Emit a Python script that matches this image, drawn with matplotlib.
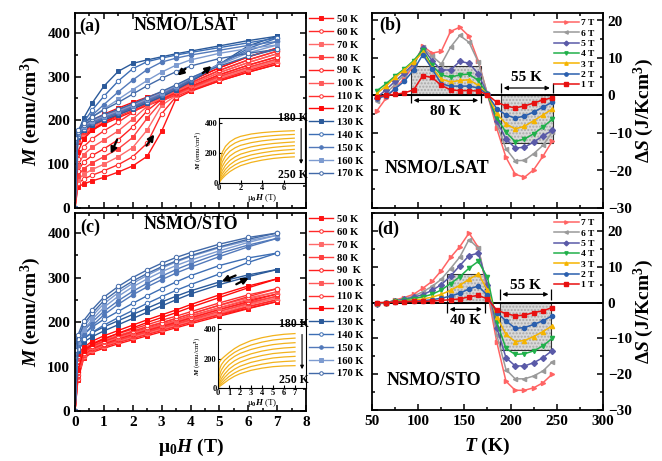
import matplotlib.pyplot as plt
from matplotlib.patches import Rectangle
from matplotlib.ticker import MultipleLocator

plt.rcParams['font.family'] = ['Liberation Serif', 'DejaVu Serif']
plt.rcParams['font.weight'] = 'bold'
plt.rcParams['mathtext.fontset'] = 'custom'
plt.rcParams['mathtext.rm'] = 'Liberation Serif:bold'
plt.rcParams['mathtext.it'] = 'Liberation Serif:bold:italic'
plt.rcParams['mathtext.bf'] = 'Liberation Serif:bold'
plt.rcParams['axes.linewidth'] = 1.3

# ---------------- M-H loops ----------------
H_pts = [0, 0.1, 0.3, 0.6, 1.0, 1.5, 2.0, 2.5, 3.0, 3.5, 4.0, 5.0, 6.0, 7.0]
temps = ['50 K', '60 K', '70 K', '80 K', '90  K', '100 K', '110 K', '120 K',
         '130 K', '140 K', '150 K', '160 K', '170 K']

# NSMO/LSAT, field increasing
M_inc_lsat = [
    [0, 48, 55, 62, 70, 82, 96, 118, 175, 250, 266, 290, 310, 328],
    [0, 56, 66, 75, 85, 99, 117, 148, 215, 254, 269, 293, 314, 332],
    [0, 64, 77, 88, 100, 117, 138, 178, 234, 257, 271, 296, 317, 336],
    [0, 73, 90, 103, 117, 135, 161, 205, 243, 260, 274, 300, 321, 340],
    [0, 84, 105, 120, 135, 156, 185, 222, 248, 263, 277, 304, 326, 345],
    [0, 96, 122, 139, 155, 176, 203, 232, 252, 266, 281, 309, 332, 352],
    [0, 112, 140, 158, 176, 196, 218, 239, 256, 270, 285, 314, 338, 358],
    [0, 128, 158, 177, 195, 213, 231, 246, 260, 274, 290, 320, 345, 365],
    [0, 162, 178, 190, 201, 213, 226, 240, 254, 270, 288, 328, 370, 392],
    [0, 165, 181, 193, 204, 216, 229, 243, 257, 273, 291, 328, 364, 388],
    [0, 168, 184, 196, 207, 219, 232, 246, 260, 276, 294, 329, 359, 380],
    [0, 171, 187, 199, 210, 222, 235, 249, 263, 279, 296, 327, 354, 372],
    [0, 174, 190, 202, 213, 225, 238, 252, 266, 281, 297, 324, 346, 362],
]
# NSMO/LSAT, field decreasing
M_dec_lsat = [
    [135, 150, 165, 178, 192, 206, 220, 234, 246, 257, 268, 290, 310, 328],
    [138, 153, 168, 181, 195, 209, 223, 236, 248, 259, 270, 293, 314, 332],
    [140, 155, 170, 184, 198, 212, 226, 238, 250, 261, 272, 296, 317, 336],
    [142, 158, 173, 187, 201, 215, 228, 240, 252, 263, 275, 300, 321, 340],
    [145, 160, 176, 190, 204, 218, 231, 243, 254, 265, 278, 304, 326, 345],
    [148, 163, 179, 193, 207, 221, 234, 246, 257, 268, 282, 309, 332, 352],
    [150, 166, 182, 196, 210, 224, 237, 249, 260, 272, 286, 314, 338, 358],
    [153, 170, 186, 200, 214, 228, 241, 253, 264, 276, 291, 320, 345, 365],
    [150, 172, 205, 240, 278, 312, 330, 338, 345, 352, 358, 370, 382, 392],
    [152, 172, 196, 224, 255, 290, 318, 334, 342, 349, 355, 366, 377, 388],
    [155, 174, 192, 212, 236, 265, 292, 316, 333, 342, 349, 360, 371, 380],
    [158, 176, 192, 208, 226, 248, 270, 291, 310, 326, 338, 353, 364, 372],
    [160, 178, 194, 208, 224, 241, 260, 279, 296, 311, 324, 341, 353, 362],
]
# NSMO/STO, field increasing
M_inc_sto = [
    [0, 70, 118, 132, 141, 151, 160, 169, 178, 187, 196, 213, 230, 246],
    [0, 73, 121, 135, 144, 154, 163, 172, 181, 190, 199, 217, 234, 250],
    [0, 76, 123, 137, 147, 157, 166, 175, 184, 193, 202, 220, 238, 254],
    [0, 79, 125, 139, 149, 159, 169, 178, 187, 196, 205, 224, 242, 258],
    [0, 82, 127, 141, 151, 162, 172, 181, 190, 199, 209, 228, 246, 263],
    [0, 85, 129, 143, 154, 165, 175, 185, 194, 203, 213, 232, 251, 268],
    [0, 88, 131, 146, 157, 168, 179, 189, 198, 208, 218, 238, 257, 275],
    [0, 92, 135, 150, 162, 175, 187, 199, 210, 221, 233, 255, 277, 297],
    [0, 135, 155, 167, 180, 194, 208, 222, 236, 250, 263, 284, 302, 318],
    [0, 140, 162, 177, 193, 210, 226, 242, 257, 271, 284, 308, 334, 355],
    [0, 148, 172, 192, 216, 240, 261, 279, 295, 310, 323, 347, 369, 388],
    [0, 155, 182, 206, 233, 258, 279, 297, 313, 327, 339, 360, 379, 395],
    [0, 162, 195, 220, 248, 272, 292, 309, 324, 337, 349, 369, 386, 400],
]
# NSMO/STO, field decreasing
M_dec_sto = [
    [92, 110, 124, 136, 146, 156, 165, 174, 183, 191, 200, 216, 231, 246],
    [95, 113, 127, 139, 149, 159, 168, 177, 186, 194, 203, 220, 235, 250],
    [97, 116, 130, 142, 152, 162, 171, 180, 189, 198, 207, 224, 240, 254],
    [99, 118, 132, 144, 154, 164, 174, 183, 192, 201, 210, 228, 244, 258],
    [101, 120, 134, 146, 157, 167, 177, 186, 195, 204, 214, 232, 249, 263],
    [103, 122, 136, 149, 160, 170, 180, 190, 199, 208, 218, 237, 254, 268],
    [105, 124, 139, 152, 163, 174, 184, 194, 204, 213, 223, 243, 261, 275],
    [108, 128, 143, 157, 169, 181, 193, 205, 216, 227, 239, 261, 281, 297],
    [118, 145, 163, 176, 189, 203, 217, 231, 245, 258, 270, 290, 306, 318],
    [122, 150, 172, 189, 206, 224, 242, 259, 275, 290, 304, 327, 344, 355],
    [128, 157, 180, 200, 224, 248, 269, 287, 303, 318, 331, 354, 373, 388],
    [133, 162, 190, 214, 241, 266, 287, 305, 321, 335, 347, 367, 383, 395],
    [138, 170, 203, 228, 256, 280, 300, 317, 332, 345, 356, 375, 390, 400],
]

# insets, 180 K ... 250 K
H_ins = [0, 0.1, 0.3, 0.6, 1.0, 1.5, 2.0, 3.0, 4.0, 5.0, 6.0, 7.0]
M_ins_lsat = [
    [0, 150, 205, 245, 275, 298, 312, 328, 337, 343, 347, 350],
    [0, 120, 175, 215, 245, 268, 283, 300, 310, 317, 322, 325],
    [0, 90, 140, 180, 212, 236, 252, 270, 282, 290, 296, 300],
    [0, 65, 110, 148, 180, 205, 222, 242, 255, 264, 270, 275],
    [0, 45, 82, 118, 150, 175, 193, 214, 228, 238, 245, 250],
    [0, 30, 60, 92, 122, 148, 166, 188, 202, 213, 220, 225],
    [0, 20, 42, 70, 98, 122, 140, 162, 177, 188, 195, 200],
    [0, 12, 30, 52, 76, 98, 116, 138, 153, 164, 171, 175],
]
M_ins_sto = [
    [0, 172, 195, 215, 240, 268, 290, 322, 342, 356, 365, 370],
    [0, 120, 158, 188, 215, 242, 262, 292, 312, 326, 334, 339],
    [0, 80, 122, 156, 188, 215, 235, 262, 281, 295, 303, 308],
    [0, 50, 90, 124, 157, 185, 205, 232, 251, 264, 272, 277],
    [0, 30, 62, 95, 128, 156, 176, 203, 221, 234, 241, 246],
    [0, 20, 44, 72, 102, 128, 148, 174, 191, 204, 211, 215],
    [0, 12, 29, 52, 78, 102, 121, 146, 162, 174, 180, 184],
    [0, 8, 19, 36, 58, 80, 97, 120, 135, 145, 150, 152],
]

# ---------------- entropy change ----------------
T_mid = [55, 65, 75, 85, 95, 105, 115, 125, 135, 145, 155, 165, 175, 185,
         195, 205, 215, 225, 235, 245]
fields = ['7 T', '6 T', '5 T', '4 T', '3 T', '2 T', '1 T']
dS_lsat = [
    [-4.2, -0.8, 2.0, 4.5, 8.0, 13.2, 11.3, 11.8, 17.1, 18.2, 15.8, 9.2, 0.3, -8.8, -16.5, -21.0, -21.8, -19.8, -16.2, -12.2],
    [-1.5, 0.5, 3.0, 5.5, 8.0, 12.8, 10.5, 8.4, 12.9, 16.0, 14.2, 8.9, 0.3, -7.6, -14.2, -17.4, -17.3, -15.5, -13.3, -9.8],
    [-0.6, 1.5, 3.8, 6.0, 8.5, 12.7, 9.3, 6.8, 6.8, 9.1, 8.6, 5.8, 0.3, -6.8, -11.6, -14.0, -13.8, -12.4, -10.8, -9.3],
    [1.2, 3.1, 5.2, 7.1, 9.3, 12.2, 8.0, 5.5, 4.9, 5.5, 5.7, 4.0, 0.3, -6.0, -9.8, -12.3, -11.6, -10.2, -8.4, -6.4],
    [0.5, 2.5, 4.8, 6.8, 9.0, 11.5, 7.3, 4.4, 3.6, 4.0, 4.2, 2.7, 0.3, -4.8, -7.6, -8.9, -8.2, -6.7, -5.2, -3.6],
    [-0.6, -0.2, 1.8, 3.8, 6.8, 10.9, 7.1, 3.1, 2.5, 2.5, 2.5, 2.0, 0.3, -3.5, -5.2, -6.0, -5.5, -4.4, -3.1, -1.8],
    [-0.3, 0.0, 0.3, 0.7, 1.5, 5.3, 4.8, 2.7, 1.5, 1.3, 1.3, 1.2, 0.2, -1.8, -2.8, -3.3, -2.8, -2.0, -1.2, -0.6],
]
dS_sto = [
    [-0.3, -0.2, 0.7, 1.4, 2.3, 4.0, 5.9, 8.9, 12.6, 15.6, 19.4, 15.4, 3.0, -11.0, -22.0, -24.5, -24.5, -23.8, -22.4, -20.0],
    [-0.3, -0.1, 0.5, 1.0, 1.8, 3.0, 4.5, 6.5, 9.5, 12.7, 17.6, 15.2, 4.0, -9.0, -18.7, -21.3, -21.3, -20.5, -19.1, -16.6],
    [-0.4, 0.0, 0.5, 0.9, 1.5, 2.2, 3.4, 5.0, 7.4, 10.3, 13.1, 13.8, 5.0, -7.0, -15.4, -17.7, -17.7, -16.8, -15.4, -13.4],
    [-0.3, 0.0, 0.4, 0.7, 1.1, 1.6, 2.3, 3.5, 5.3, 7.2, 9.6, 11.5, 7.0, -5.5, -12.8, -14.5, -14.3, -13.5, -12.1, -10.0],
    [-0.2, 0.0, 0.3, 0.5, 0.7, 1.0, 1.5, 2.3, 3.4, 4.8, 6.5, 8.0, 3.5, -4.0, -8.9, -10.9, -10.6, -9.5, -8.1, -6.5],
    [-0.1, 0.0, 0.2, 0.3, 0.4, 0.5, 0.8, 1.2, 1.8, 2.6, 3.8, 4.6, 2.0, -2.8, -5.1, -7.2, -7.0, -6.1, -5.1, -3.7],
    [0.0, 0.0, 0.1, 0.2, 0.3, 0.3, 0.4, 0.6, 0.8, 1.0, 1.6, 2.0, 1.0, -2.1, -3.1, -3.7, -3.5, -2.8, -2.3, -1.4],
]
# shaded spans: (T start, T end, dS edge)
span_lsat = [(92, 168, 7.8), (189.5, 245.5, -12.6)]
span_sto = [(131, 172, 8.1), (188, 244, -13.2)]
span_text_lsat = ['80 K', '55 K']
span_text_sto = ['40 K', '55 K']

# ---------------- styles ----------------
mh_colors = ['#ff1515', '#ff2a2a', '#ff6a6a', '#ff4040', '#ff2020', '#ff5a5a',
             '#ff3030', '#ff0a0a', '#2b5a9a', '#3d6eb4', '#5279ba', '#7d9bd0', '#4169a8']
mh_markers = ['s', 'o', 's', 's', 'o', 's', 'o', 's', 's', 'o', 'o', 's', 'o']
mh_filled = [True, False, True, True, False, True, False, True, True, False, True, True, False]
dS_colors = ['#ff6464', '#9a9a9a', '#5a5aa8', '#20b04a', '#f5b400', '#2a5fae', '#e81010']
dS_markers = ['>', '<', 'D', 'v', '^', 'o', 's']
ins_color = '#f2b21c'

fig = plt.figure(figsize=(6.62, 4.61), dpi=100)
W, Hh = 662.0, 461.0
ax_a = fig.add_axes([75 / W, 1 - 208 / Hh, 231 / W, 195 / Hh])
ax_c = fig.add_axes([75 / W, 1 - 411 / Hh, 231 / W, 198 / Hh])
ax_b = fig.add_axes([372 / W, 1 - 208 / Hh, 231 / W, 195 / Hh])
ax_d = fig.add_axes([372 / W, 1 - 410 / Hh, 231 / W, 197 / Hh])


def style_ticks(ax, right_labels=False):
    ax.tick_params(which='both', direction='in', top=True, right=True, left=True,
                   labelsize=11, width=1.1)
    ax.tick_params(which='major', length=4.5)
    ax.tick_params(which='minor', length=2.5)
    if right_labels:
        ax.tick_params(labelleft=False, labelright=True)
    for lab in ax.get_xticklabels() + ax.get_yticklabels():
        lab.set_fontweight('bold')


def mh_panel(ax, m_inc, m_dec, show_x):
    handles = []
    for i, t in enumerate(temps):
        c = mh_colors[i]
        kw = dict(color=c, lw=1.0, marker=mh_markers[i], ms=3.2,
                  mfc=c if mh_filled[i] else 'white', mec=c, mew=0.7)
        ln, = ax.plot(H_pts, m_inc[i], label=t, **kw)
        ax.plot(H_pts, m_dec[i], **kw)
        handles.append(ln)
    ax.set_xlim(0, 8)
    ax.set_ylim(0, 445)
    ax.xaxis.set_major_locator(MultipleLocator(1))
    ax.xaxis.set_minor_locator(MultipleLocator(0.5))
    ax.yaxis.set_major_locator(MultipleLocator(100))
    ax.yaxis.set_minor_locator(MultipleLocator(50))
    style_ticks(ax)
    if not show_x:
        ax.tick_params(labelbottom=False)
    ax.set_ylabel(r'$M$ (emu/cm$^3$)', fontsize=14, fontweight='bold', labelpad=3)
    ax.legend(handles=handles, loc='upper left', bbox_to_anchor=(1.005, 1.0),
              frameon=False, fontsize=7.6, handlelength=2.3, handletextpad=0.4,
              labelspacing=0.33, borderaxespad=0, borderpad=0.15, markerscale=0.8)


def inset(rect, m_ins, xticks):
    ins = fig.add_axes(rect)
    for m in m_ins:
        ins.plot(H_ins, m, color=ins_color, lw=0.9)
    ins.set_xlim(0, 8)
    ins.set_ylim(0, 435)
    ins.set_xticks(xticks)
    ins.set_yticks([0, 200, 400])
    ins.tick_params(direction='in', labelsize=6, length=2, pad=1, width=0.8)
    for s in ins.spines.values():
        s.set_linewidth(0.8)
    for lab in ins.get_xticklabels() + ins.get_yticklabels():
        lab.set_fontweight('bold')
    ins.set_ylabel(r'$M$ (emu/cm$^3$)', fontsize=5, labelpad=1)
    ins.set_xlabel(r'μ$_0H$ (T)', fontsize=6.5, labelpad=0)
    ins.text(0.86, 1.0, '180 K', transform=ins.transAxes, ha='center', va='center',
             fontsize=8.5, fontweight='bold')
    ins.text(0.86, 0.13, '250 K', transform=ins.transAxes, ha='center', va='center',
             fontsize=8.5, fontweight='bold')
    ins.annotate('', xy=(0.955, 0.25), xytext=(0.955, 0.88), xycoords='axes fraction',
                 arrowprops=dict(arrowstyle='-|>', color='k', lw=0.8, mutation_scale=5))
    return ins


def arrow(ax, x0, y0, x1, y1):
    ax.annotate('', xy=(x1, y1), xytext=(x0, y0),
                arrowprops=dict(arrowstyle='-|>', color='k', lw=1.6, mutation_scale=9))


# (a) and (c)
mh_panel(ax_a, M_inc_lsat, M_dec_lsat, False)
mh_panel(ax_c, M_inc_sto, M_dec_sto, True)
ax_c.set_xlabel(r'μ$_0H$ (T)', fontsize=14, fontweight='bold', labelpad=6)
ax_a.text(0.065, 0.93, '(a)', transform=ax_a.transAxes, ha='center', va='center',
          fontsize=13, fontweight='bold')
ax_a.text(0.48, 0.935, 'NSMO/LSAT', transform=ax_a.transAxes, ha='center', va='center',
          fontsize=13, fontweight='bold')
ax_c.text(0.065, 0.93, '(c)', transform=ax_c.transAxes, ha='center', va='center',
          fontsize=13, fontweight='bold')
ax_c.text(0.5, 0.94, 'NSMO/STO', transform=ax_c.transAxes, ha='center', va='center',
          fontsize=13, fontweight='bold')
arrow(ax_a, 1.5, 162, 1.2, 118)
arrow(ax_a, 2.42, 137, 2.8, 173)
arrow(ax_a, 3.9, 322, 3.48, 298)
arrow(ax_a, 4.35, 304, 4.8, 328)
arrow(ax_c, 5.65, 307, 5.0, 289)
arrow(ax_c, 5.5, 282, 6.1, 302)

inset([219 / W, 1 - 183 / Hh, 86 / W, 65 / Hh], M_ins_lsat, [0, 2, 4, 6])
inset([218 / W, 1 - 388 / Hh, 88 / W, 64 / Hh], M_ins_sto, [0, 1, 2, 3, 4, 5, 6, 7])


# (b) and (d)
def ds_panel(ax, dS, spans, ylim, show_x):
    for (t0, t1, edge) in spans:
        y0, h = (0, edge) if edge > 0 else (edge, -edge)
        ax.add_patch(Rectangle((t0, y0), t1 - t0, h, fc='#d9d9d9', ec='#a8a8a8',
                               hatch='.....', lw=0, zorder=1))
        ax.add_patch(Rectangle((t0, y0), t1 - t0, h, fill=False, ec='#333333',
                               lw=0.8, zorder=1.5))
    ax.axhline(0, color='k', lw=1.4, zorder=2)
    for i, f in enumerate(fields):
        ax.plot(T_mid, dS[i], color=dS_colors[i], marker=dS_markers[i], ms=3,
                lw=1.1, label=f, zorder=3)
    ax.set_xlim(50, 300)
    ax.set_ylim(*ylim)
    ax.xaxis.set_major_locator(MultipleLocator(50))
    ax.xaxis.set_minor_locator(MultipleLocator(25))
    ax.yaxis.set_major_locator(MultipleLocator(10))
    ax.yaxis.set_minor_locator(MultipleLocator(5))
    style_ticks(ax, right_labels=True)
    if not show_x:
        ax.tick_params(labelbottom=False)
    ax.yaxis.set_label_position('right')
    ax.set_ylabel(r'$\Delta S$ (J/Kcm$^3$)', fontsize=14, fontweight='bold', labelpad=0)
    ax.legend(loc='upper right', bbox_to_anchor=(0.985, 0.995), frameon=False,
              fontsize=6.8, handlelength=2.6, handletextpad=0.3, labelspacing=0.18,
              borderaxespad=0.1, markerscale=0.8)


ds_panel(ax_b, dS_lsat, span_lsat, (-30, 22), False)
ds_panel(ax_d, dS_sto, span_sto, (-30, 25), True)
ax_d.set_xlabel(r'$T$ (K)', fontsize=14, fontweight='bold', labelpad=6)


# span markers
def span_arrow(ax, t0, t1, y, ybar, label, ylab):
    ax.annotate('', xy=(t0, y), xytext=(t1, y),
                arrowprops=dict(arrowstyle='<|-|>', color='k', lw=0.9, mutation_scale=6))
    ax.vlines([t0, t1], ybar[0], ybar[1], color='k', lw=0.9)
    ax.text((t0 + t1) / 2, ylab, label, ha='center', va='center', fontsize=11,
            fontweight='bold')


span_arrow(ax_b, span_lsat[0][0], span_lsat[0][1], -1.3, (-2.0, 0), span_text_lsat[0], -4.2)
span_arrow(ax_b, span_lsat[1][0], span_lsat[1][1], 2.0, (0.6, 3.3), span_text_lsat[1], 4.7)
span_arrow(ax_d, span_sto[0][0], span_sto[0][1], -1.9, (-3.0, 0), span_text_sto[0], -5.0)
span_arrow(ax_d, span_sto[1][0], span_sto[1][1], 2.3, (0.8, 3.8), span_text_sto[1], 4.7)

ax_b.text(0.078, 0.935, '(b)', transform=ax_b.transAxes, ha='center', va='center',
          fontsize=13, fontweight='bold')
ax_b.text(0.28, 0.205, 'NSMO/LSAT', transform=ax_b.transAxes, ha='center', va='center',
          fontsize=13, fontweight='bold')
ax_d.text(0.07, 0.915, '(d)', transform=ax_d.transAxes, ha='center', va='center',
          fontsize=13, fontweight='bold')
ax_d.text(0.27, 0.152, 'NSMO/STO', transform=ax_d.transAxes, ha='center', va='center',
          fontsize=13, fontweight='bold')

fig.savefig('out.png', dpi=100)
